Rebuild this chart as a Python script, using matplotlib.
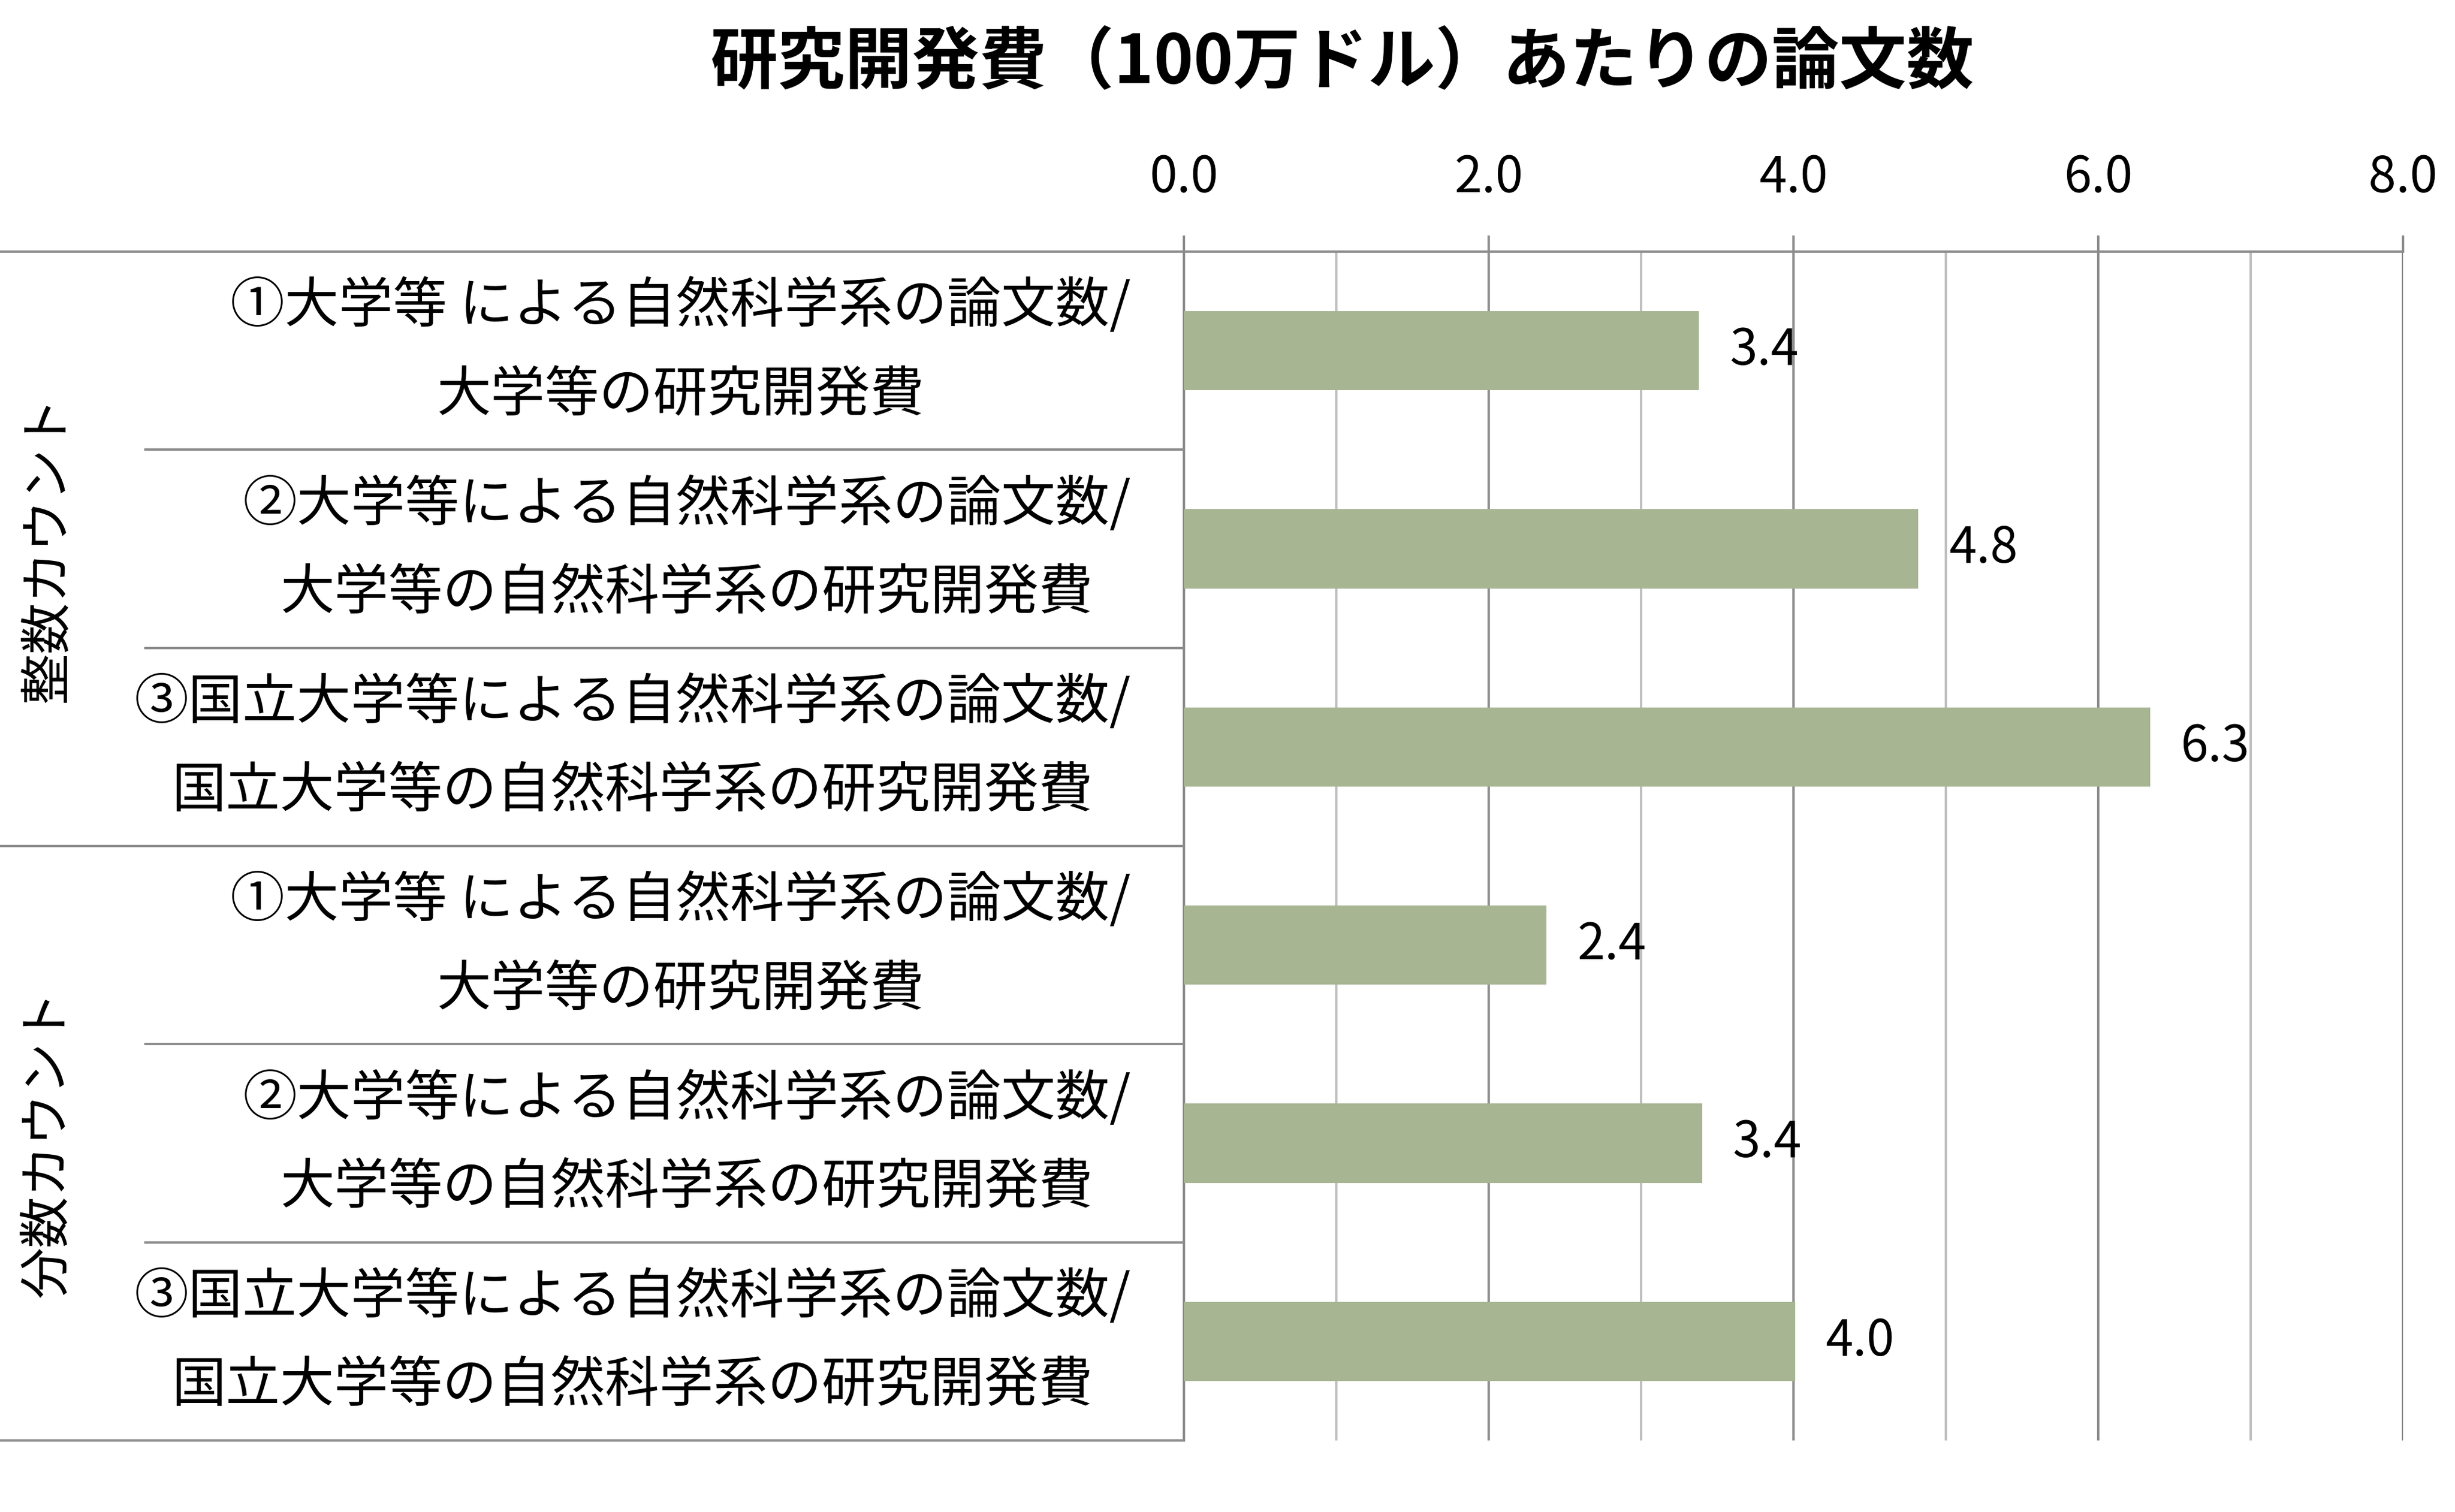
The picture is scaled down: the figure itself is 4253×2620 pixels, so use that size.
import matplotlib
matplotlib.use("Agg")
import matplotlib.pyplot as plt

plt.rcParams['font.family'] = ['Noto Sans CJK JP', 'DejaVu Sans']

title = "研究開発費（100万ドル）あたりの論文数"
groups = ["整数カウント", "分数カウント"]
labels = [
    "①大学等 による自然科学系の論文数/\n大学等の研究開発費",
    "②大学等による自然科学系の論文数/\n大学等の自然科学系の研究開発費",
    "③国立大学等による自然科学系の論文数/\n国立大学等の自然科学系の研究開発費",
    "①大学等 による自然科学系の論文数/\n大学等の研究開発費",
    "②大学等による自然科学系の論文数/\n大学等の自然科学系の研究開発費",
    "③国立大学等による自然科学系の論文数/\n国立大学等の自然科学系の研究開発費",
]
values = [3.38, 4.82, 6.34, 2.38, 3.40, 4.01]
xticks = [0, 2, 4, 6, 8]

bar_color = "#A7B593"
line_color = "#8C8C8C"

fig = plt.figure(figsize=(21.265, 13.1), dpi=200)
ax = fig.add_axes([0.4823, 0.0473, 0.4965, 0.7863])

y = list(range(len(values)))
ax.barh(y, values, height=0.4, color=bar_color, zorder=3)
ax.set_ylim(len(values) - 0.5, -0.5)
ax.set_xlim(0, 8)

# grid: major at 2, minor at 1
ax.set_xticks(xticks)
ax.set_xticklabels([f"{t:.1f}" for t in xticks])
ax.set_xticks([1, 3, 5, 7], minor=True)
ax.xaxis.tick_top()
ax.tick_params(axis='x', which='major', direction='out', length=10, width=1.5,
               color=line_color, labelsize=31, pad=20)
ax.tick_params(axis='x', which='minor', length=0)
ax.grid(axis='x', which='major', color=line_color, linewidth=1.5, zorder=0)
ax.grid(axis='x', which='minor', color="#BFBFBF", linewidth=1.5, zorder=0)
ax.set_yticks([])

for s in ['right', 'bottom']:
    ax.spines[s].set_visible(False)
for s in ['top', 'left']:
    ax.spines[s].set_color(line_color)
    ax.spines[s].set_linewidth(1.5)

# value labels
for yi, v in zip(y, values):
    ax.annotate(f"{v:.1f}", (v, yi), xytext=(19, 0), textcoords='offset points',
                ha='left', va='center', fontsize=31)

# category labels
for yi, lab in zip(y, labels):
    ax.text(-0.0436, yi, lab, transform=ax.get_yaxis_transform(), ha='right',
            va='center', multialignment='center', fontsize=33.8, linespacing=1.78)

# separator lines
ytr = ax.get_yaxis_transform()
for b in [-0.5, 2.5, 5.5]:
    ax.plot([-0.971, 0], [b, b], transform=ytr, color=line_color, lw=1.5, clip_on=False)
for b in [0.5, 1.5, 3.5, 4.5]:
    ax.plot([-0.852, 0], [b, b], transform=ytr, color=line_color, lw=1.5, clip_on=False)

# group labels
for gi, g in enumerate(groups):
    ax.text(-0.932, 1 + gi * 3, g, transform=ytr, rotation=90, ha='center',
            va='center', fontsize=32)

fig.text(0.5467, 0.958, title, ha='center', va='center', fontsize=42, fontweight='bold')

fig.savefig("out.png", dpi=200, facecolor='white')
